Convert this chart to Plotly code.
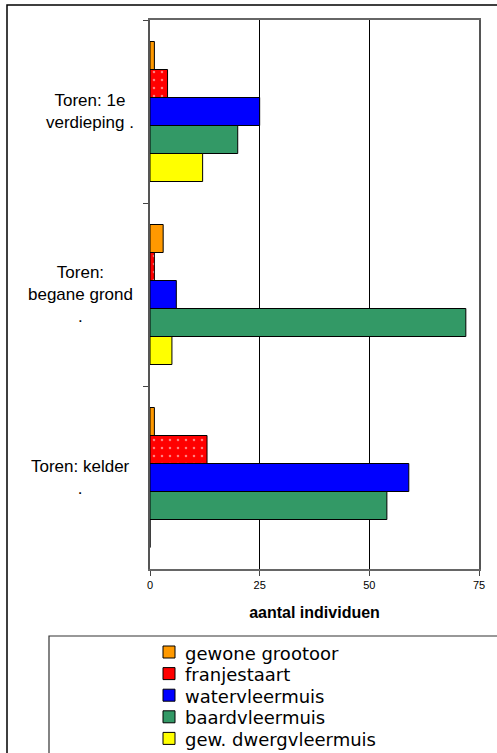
import plotly.graph_objects as go

categories = ["Toren: 1e verdieping .", "Toren: begane grond .", "Toren: kelder ."]
category_labels = ["Toren: 1e<br>verdieping .", "Toren:<br>begane grond<br>.", "Toren: kelder<br>."]
series_names = ["gewone grootoor", "franjestaart", "watervleermuis", "baardvleermuis", "gew. dwergvleermuis"]
gewone_grootoor = [1, 3, 1]
franjestaart = [4, 1, 13]
watervleermuis = [25, 6, 59]
baardvleermuis = [20, 72, 54]
gew_dwergvleermuis = [12, 5, 0]
x_ticks = [0, 25, 50, 75]
x_title = "aantal individuen"

series_values = [gewone_grootoor, franjestaart, watervleermuis, baardvleermuis, gew_dwergvleermuis]
colors = ["#FF9900", "#FF0000", "#0000FF", "#339966", "#FFFF00"]

W, H = 497, 753
PL, PT, PR, PB = 150, 20, 479, 569  # plot area in pixels
ML, MT, MR, MB = PL, PT, W - PR, H - PB
PW, PH = PR - PL, PB - PT

def px_x(p):
    return (p - PL) / PW

def px_y(p):
    return (PB - p) / PH

fig = go.Figure()
for name, vals, col in zip(series_names, series_values, colors):
    marker = dict(color=col, line=dict(color="black", width=1))
    if name == "franjestaart":
        marker["pattern"] = dict(shape=".", fgcolor="white", bgcolor=col, size=8, solidity=0.08)
    fig.add_trace(go.Bar(y=categories, x=vals, name=name, orientation="h",
                         marker=marker, showlegend=False))

fig.update_layout(
    width=W, height=H,
    margin=dict(l=ML, r=MR, t=MT, b=MB, autoexpand=False),
    paper_bgcolor="white", plot_bgcolor="white",
    barmode="group", bargap=0.235, bargroupgap=0,
    font=dict(family="Liberation Sans, Arial, sans-serif", color="black"),
    showlegend=False,
)

fig.update_xaxes(
    range=[0, 75], tickvals=x_ticks, ticktext=[str(v) for v in x_ticks],
    showgrid=True, gridcolor="black", gridwidth=1,
    showline=True, linecolor="#666666", linewidth=1.5, mirror=True,
    ticks="outside", ticklen=5, tickcolor="#444444",
    tickfont=dict(size=11, color="black"),
    zeroline=False,
    title=dict(text="<b>" + x_title + "</b>", font=dict(size=16, color="black"), standoff=17),
)
fig.update_yaxes(
    autorange="reversed", type="category",
    showticklabels=False, tickson="boundaries",
    ticks="outside", ticklen=5, tickcolor="#444444",
    showline=True, linecolor="#555555", linewidth=1.5, mirror=True,
    showgrid=False,
)

label_x = [90, 80, 80]
for cat, lab, lx in zip(categories, category_labels, label_x):
    fig.add_annotation(
        x=px_x(lx), xref="paper", y=cat, yref="y", text=lab, showarrow=False,
        xanchor="center", yanchor="middle", align="center",
        font=dict(size=17, color="black"),
    )

# outer chart border and legend box (they run off the right/bottom edge)
fig.add_shape(type="rect", xref="paper", yref="paper",
              x0=px_x(7), x1=px_x(530), y0=px_y(5), y1=px_y(790),
              line=dict(color="black", width=1.5), layer="below")
fig.add_shape(type="rect", xref="paper", yref="paper",
              x0=px_x(49), x1=px_x(530), y0=px_y(636), y1=px_y(790),
              line=dict(color="#333333", width=1.2), layer="below")

# legend entries (key square + label), stacked tightly like the original
LEG_Y0, LEG_DY = 652, 21.6
for i, (name, col) in enumerate(zip(series_names, colors)):
    yc = LEG_Y0 + i * LEG_DY
    fig.add_shape(type="rect", xref="paper", yref="paper",
                  x0=px_x(163), x1=px_x(175), y0=px_y(yc - 6), y1=px_y(yc + 6),
                  fillcolor=col, line=dict(color="black", width=1))
    fig.add_annotation(x=px_x(183), y=px_y(yc + 1), xref="paper", yref="paper",
                       text=name, showarrow=False, xanchor="left", yanchor="middle",
                       font=dict(family="DejaVu Sans", size=18, color="black"))

fig.write_html("out.html", config={"displayModeBar": False},
               post_script="document.body.style.margin='0px';")
